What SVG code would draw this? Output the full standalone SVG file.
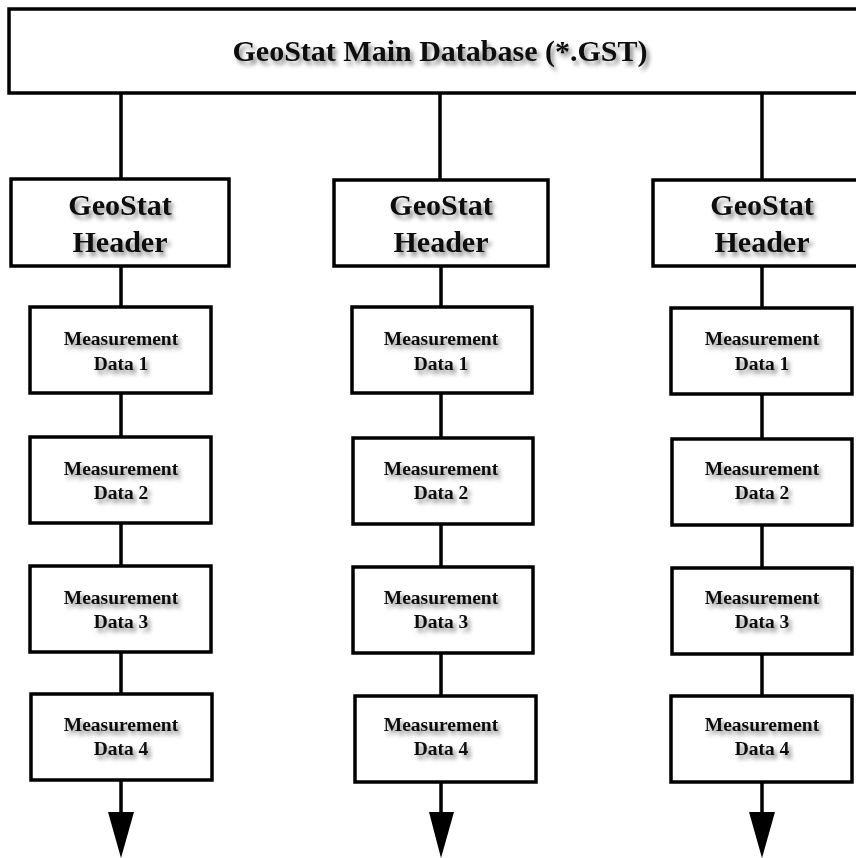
<svg xmlns="http://www.w3.org/2000/svg" width="856" height="858" viewBox="0 0 856 858">
<defs>
<filter id="sh" x="-20%" y="-40%" width="140%" height="200%">
<feGaussianBlur in="SourceAlpha" stdDeviation="2.2" result="b"/>
<feOffset in="b" dx="3" dy="4" result="o"/>
<feFlood flood-color="#000" flood-opacity="0.45"/>
<feComposite in2="o" operator="in" result="s"/>
<feMerge><feMergeNode in="s"/><feMergeNode in="SourceGraphic"/></feMerge>
</filter>
</defs>
<style>
.box{fill:#fff;stroke:#000;stroke-width:3.5}
.ln{stroke:#000;stroke-width:3.5;fill:none}
.ar{fill:#000}
text{font-family:"Liberation Serif","Times New Roman",serif;font-weight:bold;fill:#111;text-anchor:middle;filter:url(#sh)}
.t1{font-size:30px}
.t2{font-size:30px}
.t3{font-size:19.5px}
</style>
<rect width="856" height="858" fill="#fff"/>
<g id="connectors">
<path class="ln" d="M121 93V179M440 93V179M762 93V179"/>
<path class="ln" d="M121 266V307M121 393V437M121 523V566M121 652V694M121 780V814"/>
<path class="ln" d="M441 266V307M441 393V438M441 524V567M441 653V696M441 782V814"/>
<path class="ln" d="M762 266V308M762 394V439M762 525V568M762 654V696M762 782V814"/>
<polygon class="ar" points="108,812 134,812 121,858"/>
<polygon class="ar" points="429,812 454,812 441,858"/>
<polygon class="ar" points="749,812 775,812 762,858"/>
</g>
<g id="main"><rect class="box" x="9" y="9" width="860" height="84"/><text class="t1" x="440" y="61">GeoStat Main Database (*.GST)</text></g>
<g id="h1"><rect class="box" x="11" y="179" width="218" height="87"/><text class="t2" x="120" y="215">GeoStat</text><text class="t2" x="120" y="252">Header</text></g>
<g id="h2"><rect class="box" x="334" y="180" width="214" height="86"/><text class="t2" x="441" y="215">GeoStat</text><text class="t2" x="441" y="252">Header</text></g>
<g id="h3"><rect class="box" x="653" y="180" width="220" height="86"/><text class="t2" x="762" y="215">GeoStat</text><text class="t2" x="762" y="252">Header</text></g>
<g id="c1m1"><rect class="box" x="30" y="307" width="181" height="86"/><text class="t3" x="121" y="345">Measurement</text><text class="t3" x="121" y="370">Data 1</text></g>
<g id="c1m2"><rect class="box" x="30" y="437" width="181" height="86"/><text class="t3" x="121" y="475">Measurement</text><text class="t3" x="121" y="499">Data 2</text></g>
<g id="c1m3"><rect class="box" x="30" y="566" width="181" height="86"/><text class="t3" x="121" y="604">Measurement</text><text class="t3" x="121" y="628">Data 3</text></g>
<g id="c1m4"><rect class="box" x="31" y="694" width="181" height="86"/><text class="t3" x="121" y="731">Measurement</text><text class="t3" x="121" y="755">Data 4</text></g>
<g id="c2m1"><rect class="box" x="352" y="307" width="180" height="86"/><text class="t3" x="441" y="345">Measurement</text><text class="t3" x="441" y="370">Data 1</text></g>
<g id="c2m2"><rect class="box" x="353" y="438" width="180" height="86"/><text class="t3" x="441" y="475">Measurement</text><text class="t3" x="441" y="499">Data 2</text></g>
<g id="c2m3"><rect class="box" x="353" y="567" width="180" height="86"/><text class="t3" x="441" y="604">Measurement</text><text class="t3" x="441" y="628">Data 3</text></g>
<g id="c2m4"><rect class="box" x="355" y="696" width="181" height="86"/><text class="t3" x="441" y="731">Measurement</text><text class="t3" x="441" y="755">Data 4</text></g>
<g id="c3m1"><rect class="box" x="671" y="308" width="181" height="86"/><text class="t3" x="762" y="345">Measurement</text><text class="t3" x="762" y="370">Data 1</text></g>
<g id="c3m2"><rect class="box" x="672" y="439" width="180" height="86"/><text class="t3" x="762" y="475">Measurement</text><text class="t3" x="762" y="499">Data 2</text></g>
<g id="c3m3"><rect class="box" x="672" y="568" width="180" height="86"/><text class="t3" x="762" y="604">Measurement</text><text class="t3" x="762" y="628">Data 3</text></g>
<g id="c3m4"><rect class="box" x="671" y="696" width="181" height="86"/><text class="t3" x="762" y="731">Measurement</text><text class="t3" x="762" y="755">Data 4</text></g>
</svg>
